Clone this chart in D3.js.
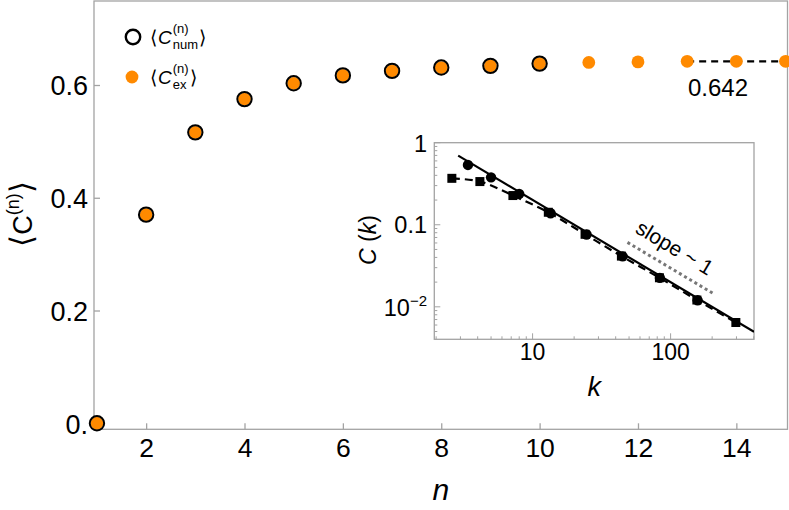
<!DOCTYPE html>
<html>
<head>
<meta charset="utf-8">
<script src="https://cdn.jsdelivr.net/npm/d3@7"></script>
<style>
  body { margin: 0; background: #fff; }
  svg { font-family: "Liberation Sans", Arial, sans-serif; }
</style>
</head>
<body>
<svg id="chart" width="789" height="510"></svg>
<script>
// main panel: <C^(n)> against n
const nNum = [1, 2, 3, 4, 5, 6, 7, 8, 9, 10];
const cNum = [0.0, 0.370, 0.516, 0.575, 0.603, 0.617, 0.625, 0.631, 0.634, 0.638];
const nEx = [1, 2, 3, 4, 5, 6, 7, 8, 9, 10, 11, 12, 13, 14, 15];
const cEx = [0.0, 0.370, 0.516, 0.575, 0.603, 0.617, 0.625, 0.631, 0.634, 0.638, 0.640, 0.641, 0.642, 0.642, 0.642];
const cLimit = 0.642;
const nLimitStart = 13;
const xTicks = [2, 4, 6, 8, 10, 12, 14];
const yTicks = [0, 0.2, 0.4, 0.6];
const yTickLabels = ["0.", "0.2", "0.4", "0.6"];

// inset: C(k), log-log
const kCircle = [3.4, 5.0, 8.0, 13.5, 24.6, 44.9, 83.6, 157];
const cCircle = [0.536, 0.378, 0.238, 0.138, 0.0762, 0.0412, 0.0225, 0.0120];
const kSquare = [2.6, 4.15, 7.2, 13.0, 24.0, 44.0, 83.0, 155, 297];
const cSquare = [0.368, 0.336, 0.227, 0.142, 0.0765, 0.0415, 0.0226, 0.0121, 0.00644];
const kFit = [2.89, 402];
const cFit = [0.695, 0.00495];
const kSlope = [48.7, 204];
const cSlope = [0.061, 0.0145];
const kTicks = [10, 100];
const cTicks = [1, 0.1, 0.01];

const orange = "#ff8a00";
const frameGray = "#a3a3a3";

const svg = d3.select("#chart");

// ---- main panel ----
const mL = 94, mR = 787.5, mT = 1, mB = 429.3;
const x = d3.scaleLinear().domain([0.94, 15.04]).range([mL, mR]);
const y = d3.scaleLinear().domain([-0.0107, 0.749]).range([mB, mT]);

svg.append("rect")
    .attr("x", mL).attr("y", mT)
    .attr("width", mR - mL).attr("height", mB - mT)
    .attr("fill", "none").attr("stroke", frameGray).attr("stroke-width", 1.3);

const xAxis = svg.append("g")
    .attr("transform", `translate(0,${mB})`)
    .call(d3.axisBottom(x).tickValues(xTicks).tickSize(-6).tickPadding(9).tickFormat(d3.format("d")));
xAxis.select(".domain").remove();
xAxis.selectAll("line").attr("stroke", frameGray).attr("stroke-width", 1.3);
xAxis.selectAll("text").attr("font-size", 26.5).attr("fill", "#000").attr("font-family", null);

const yAxis = svg.append("g")
    .attr("transform", `translate(${mL},0)`)
    .call(d3.axisLeft(y).tickValues(yTicks).tickSize(-6).tickPadding(6).tickFormat((d, i) => yTickLabels[i]));
yAxis.select(".domain").remove();
yAxis.selectAll("line").attr("stroke", frameGray).attr("stroke-width", 1.3);
yAxis.selectAll("text").attr("font-size", 27).attr("fill", "#000").attr("font-family", null).attr("dy", "0.36em");

// axis labels
svg.append("text")
    .attr("x", (mL + mR) / 2).attr("y", 500)
    .attr("text-anchor", "middle").attr("font-size", 30).attr("font-style", "italic")
    .text("n");

const yLab = svg.append("text")
    .attr("transform", "translate(32,214) rotate(-90)")
    .attr("text-anchor", "middle").attr("font-size", 27);
yLab.append("tspan").attr("font-size", 31).text("⟨");
yLab.append("tspan").text("C");
yLab.append("tspan").attr("dy", -13).attr("font-size", 18).text("(n)");
yLab.append("tspan").attr("dy", 13).attr("font-size", 31).text("⟩");

// limit line
svg.append("line")
    .attr("x1", x(nLimitStart)).attr("x2", mR)
    .attr("y1", y(cLimit)).attr("y2", y(cLimit))
    .attr("stroke", "#000").attr("stroke-width", 2.2).attr("stroke-dasharray", "7,5");

svg.append("text")
    .attr("x", 718).attr("y", 96)
    .attr("text-anchor", "middle").attr("font-size", 24)
    .text(cLimit.toFixed(3));

// points
svg.append("g").selectAll("circle")
    .data(nEx.map((n, i) => [n, cEx[i]]))
    .join("circle")
    .attr("cx", d => x(d[0])).attr("cy", d => y(d[1]))
    .attr("r", 6.4).attr("fill", orange);

svg.append("g").selectAll("circle")
    .data(nNum.map((n, i) => [n, cNum[i]]))
    .join("circle")
    .attr("cx", d => x(d[0])).attr("cy", d => y(d[1]))
    .attr("r", 7.2).attr("fill", "none").attr("stroke", "#000").attr("stroke-width", 2);

// legend
function legendLabel(lx, ly, sub) {
    const g = svg.append("g").attr("font-size", 19);
    const a = g.append("text").attr("x", lx).attr("y", ly).text("⟨");
    let cx = lx + a.node().getComputedTextLength() + 1;
    const c = g.append("text").attr("x", cx).attr("y", ly).attr("font-style", "italic").text("C");
    cx += c.node().getComputedTextLength() + 1;
    const sp = g.append("text").attr("x", cx).attr("y", ly - 11).attr("font-size", 13).text("(n)");
    const sb = g.append("text").attr("x", cx).attr("y", ly + 5).attr("font-size", 13).text(sub);
    cx += Math.max(sp.node().getComputedTextLength(), sb.node().getComputedTextLength()) + 1;
    g.append("text").attr("x", cx).attr("y", ly).text("⟩");
}
svg.append("circle").attr("cx", 133).attr("cy", 37).attr("r", 7.2)
    .attr("fill", "none").attr("stroke", "#000").attr("stroke-width", 2.4);
legendLabel(150, 44, "num");
svg.append("circle").attr("cx", 132).attr("cy", 77).attr("r", 6.4).attr("fill", orange);
legendLabel(150, 84, "ex");

// ---- inset ----
const iL = 434.3, iR = 754, iT = 142.7, iB = 339.3;
const xi = d3.scaleLog().domain([1.94, 402]).range([iL, iR]);
const yi = d3.scaleLog().domain([0.00402, 1]).range([iB, iT]);

svg.append("rect")
    .attr("x", iL).attr("y", iT).attr("width", iR - iL).attr("height", iB - iT)
    .attr("fill", "#fff").attr("stroke", frameGray).attr("stroke-width", 1.3);

svg.append("clipPath").attr("id", "insetClip")
    .append("rect").attr("x", iL).attr("y", iT).attr("width", iR - iL).attr("height", iB - iT);

// inset ticks (major + minor, inward)
const xiAll = xi.ticks();
svg.append("g").selectAll("line")
    .data(xiAll)
    .join("line")
    .attr("x1", d => xi(d)).attr("x2", d => xi(d))
    .attr("y1", iB).attr("y2", d => iB - (kTicks.includes(d) ? 6 : 3))
    .attr("stroke", frameGray).attr("stroke-width", 1);
const yiAll = yi.ticks();
svg.append("g").selectAll("line")
    .data(yiAll)
    .join("line")
    .attr("y1", d => yi(d)).attr("y2", d => yi(d))
    .attr("x1", iL).attr("x2", d => iL + (cTicks.includes(d) ? 6 : 3))
    .attr("stroke", frameGray).attr("stroke-width", 1);

svg.append("g").selectAll("text")
    .data(kTicks)
    .join("text")
    .attr("x", d => xi(d)).attr("y", 360)
    .attr("text-anchor", "middle").attr("font-size", 23)
    .text(d => d);

const yiLab = svg.append("g").attr("font-size", 23.5).attr("text-anchor", "end");
yiLab.append("text").attr("x", 427).attr("y", yi(cTicks[0]) + 9).text("1");
yiLab.append("text").attr("x", 427).attr("y", yi(cTicks[1]) + 8).text("0.1");
const tp = yiLab.append("text").attr("x", 427).attr("y", yi(cTicks[2]) + 9);
tp.append("tspan").text("10");
tp.append("tspan").attr("dy", -10).attr("font-size", 15).text("−2");

svg.append("text")
    .attr("x", (iL + iR) / 2).attr("y", 396)
    .attr("text-anchor", "middle").attr("font-size", 27).attr("font-style", "italic")
    .text("k");

const ckLab = svg.append("text")
    .attr("transform", "translate(376,240) rotate(-90)")
    .attr("text-anchor", "middle").attr("font-size", 23);
ckLab.append("tspan").attr("font-style", "italic").text("C");
ckLab.append("tspan").text(" (");
ckLab.append("tspan").attr("font-style", "italic").text("k");
ckLab.append("tspan").text(")");

const inset = svg.append("g").attr("clip-path", "url(#insetClip)");

const line = d3.line().x(d => xi(d[0])).y(d => yi(d[1]));

inset.append("path")
    .datum(kSquare.map((k, i) => [k, cSquare[i]]))
    .attr("d", d3.line().x(d => xi(d[0])).y(d => yi(d[1])).curve(d3.curveMonotoneX))
    .attr("fill", "none").attr("stroke", "#000").attr("stroke-width", 2.2)
    .attr("stroke-dasharray", "8,5");

inset.append("path")
    .datum(kFit.map((k, i) => [k, cFit[i]]))
    .attr("d", line)
    .attr("fill", "none").attr("stroke", "#000").attr("stroke-width", 2.2);

inset.append("path")
    .datum(kSlope.map((k, i) => [k, cSlope[i]]))
    .attr("d", line)
    .attr("fill", "none").attr("stroke", "#777").attr("stroke-width", 3)
    .attr("stroke-dasharray", "3,3");

inset.append("g").selectAll("rect")
    .data(kSquare.map((k, i) => [k, cSquare[i]]))
    .join("rect")
    .attr("x", d => xi(d[0]) - 4.5).attr("y", d => yi(d[1]) - 4.5)
    .attr("width", 9).attr("height", 9).attr("fill", "#000");

inset.append("g").selectAll("circle")
    .data(kCircle.map((k, i) => [k, cCircle[i]]))
    .join("circle")
    .attr("cx", d => xi(d[0])).attr("cy", d => yi(d[1]))
    .attr("r", 5.2).attr("fill", "#000");

svg.append("text")
    .attr("transform", "translate(671,254) rotate(31)")
    .attr("text-anchor", "middle").attr("font-size", 21)
    .text("slope ~ 1");
</script>
</body>
</html>
